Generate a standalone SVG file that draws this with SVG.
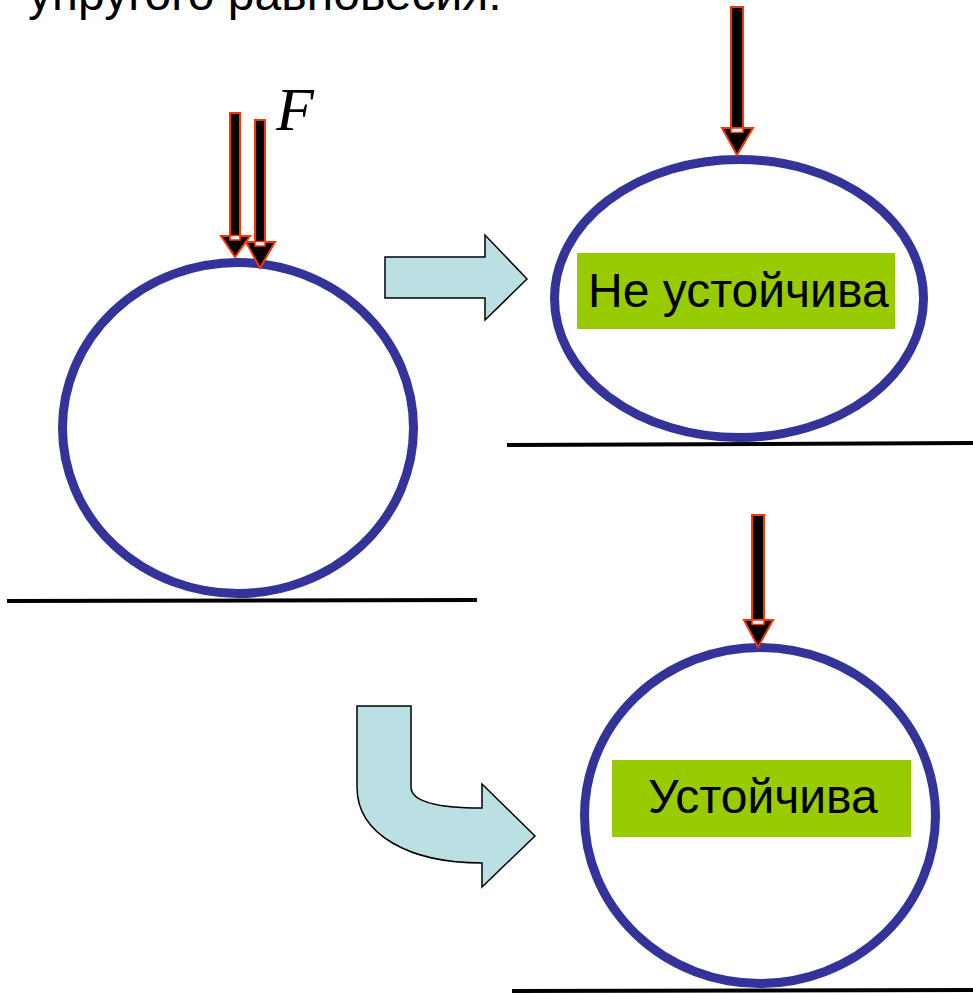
<svg xmlns="http://www.w3.org/2000/svg" width="973" height="993" viewBox="0 0 973 993">
<style>
.ring{fill:#ffffff;stroke:#333399;stroke-width:9}
.ground{stroke:#000000;stroke-width:4;fill:none}
.label{fill:#99CC00}
.txt{font-family:"Liberation Sans",Arial,sans-serif;font-size:48px;fill:#000000}
.shaft{fill:#000000;stroke:#FF3300;stroke-width:2}
.head{fill:#000000;stroke:#FF3300;stroke-width:2;stroke-linejoin:miter}
.join{fill:#ffffff;stroke:#FF3300;stroke-width:1.5}
.block{fill:#BBE0E3;stroke:#000000;stroke-width:1.5;stroke-linejoin:miter}
</style>
<rect x="0" y="0" width="973" height="993" fill="#ffffff"/>
<text class="txt" x="28" y="10">упругого равновесия:</text>

<g id="node-left">
  <ellipse class="ring" cx="238" cy="428" rx="175.5" ry="165.5"/>
  <line class="ground" x1="7" y1="601" x2="477" y2="600"/>
</g>

<g id="node-unstable">
  <ellipse class="ring" cx="739" cy="298.5" rx="184.5" ry="139"/>
  <line class="ground" x1="507" y1="445" x2="973" y2="443"/>
  <rect class="label" x="577" y="253" width="318" height="76"/>
  <text class="txt" x="588" y="307">Не устойчива</text>
</g>

<g id="node-stable">
  <ellipse class="ring" cx="760" cy="815.5" rx="175.5" ry="168"/>
  <line class="ground" x1="512" y1="991" x2="973" y2="990"/>
  <rect class="label" x="612" y="760" width="299" height="77"/>
  <text class="txt" x="648" y="813">Устойчива</text>
</g>

<g id="connectors">
  <rect class="shaft" x="230" y="113" width="10" height="123"/>
  <polygon class="head" points="221,236 250,236 235,257"/>
  <rect class="join" x="230" y="235.5" width="10" height="4.5"/>

  <rect class="shaft" x="255" y="120" width="10" height="123"/>
  <polygon class="head" points="246,242 275,242 260,268"/>
  <rect class="join" x="255" y="241.5" width="10" height="4.5"/>

  <rect class="shaft" x="731" y="7" width="12" height="121"/>
  <polygon class="head" points="722,128 753,128 737,155"/>
  <rect class="join" x="731" y="128" width="12" height="4.5"/>

  <rect class="shaft" x="752" y="515" width="12" height="105"/>
  <polygon class="head" points="744,620 773,620 758,647"/>
  <rect class="join" x="752" y="620" width="12" height="4.5"/>

  <polygon class="block" points="385,257 485,257 485,235 527,279 485,320 485,298 385,298"/>
  <path class="block" d="M357,706 L411,706 L411,787 C411,800 432,808 482,808 L482,784 L535,836 L482,887 L482,863 C410,863 357,835 357,787 Z"/>
</g>

<text x="276" y="130" font-family="'Liberation Serif','Times New Roman',serif" font-style="italic" font-size="62">F</text>
</svg>
